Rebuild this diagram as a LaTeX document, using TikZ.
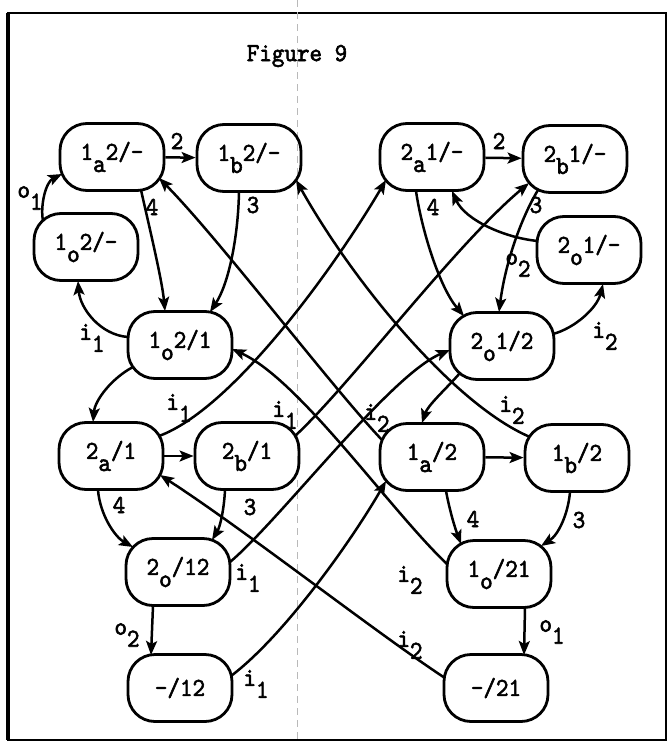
\documentclass[tikz,border=0pt]{standalone}
\usepackage{fontspec}
\setmonofont[FakeBold=2.2,FakeStretch=0.92]{lmmono10-regular.otf}
\usetikzlibrary{arrows.meta}
\newcommand\dn[1]{\raisebox{-12pt}{#1}}
\newcommand\tw{\fontsize{26}{30}\selectfont\ttfamily}
\begin{document}
\begin{tikzpicture}[x=1pt,y=-1pt,
  st/.style={draw, line width=2.8pt, rounded corners=27pt, minimum width=104pt, minimum height=67pt, inner sep=0pt, font=\tw},
  ed/.style={line width=2.5pt, -{Stealth[length=14pt,width=11pt,inset=3pt]}},
  lb/.style={inner sep=0pt, font=\tw}]
\useasboundingbox (0,0) rectangle (669,744);
\fill[white] (0,0) rectangle (669,744);
% frame
\draw[line width=2.5pt] (8,13) rectangle (666,740);
\draw[line width=4pt] (8,13) -- (8,740);
\draw[gray!55, line width=0.7pt, dash pattern=on 7pt off 5pt] (297,0) -- (297,744);
\node[lb] (title) at (297,56) {Figure 9};
% nodes
\node[st] (A1) at (112,157) {1\dn{a}2/-};
\node[st] (B1) at (249,158) {1\dn{b}2/-};
\node[st] (O1) at (86,247) {1\dn{o}2/-};
\node[st] (C1) at (180,345) {1\dn{o}2/1};
\node[st] (A2) at (432,157) {2\dn{a}1/-};
\node[st] (B2) at (575,159) {2\dn{b}1/-};
\node[st] (O2) at (589,250) {2\dn{o}1/-};
\node[st] (C2) at (502,346) {2\dn{o}1/2};
\node[st] (D1) at (111,456) {2\dn{a}/1};
\node[st] (E1) at (247,456) {2\dn{b}/1};
\node[st] (D2) at (432,457) {1\dn{a}/2};
\node[st] (E2) at (577,458) {1\dn{b}/2};
\node[st] (F1) at (178,572) {2\dn{o}/12};
\node[st] (F2) at (499,574) {1\dn{o}/21};
\node[st] (G1) at (180,688) {-/12};
\node[st] (G2) at (496,688) {-/21};
% left upper group
\draw[ed] (A1) -- (B1);
\draw[ed] ([shift={(29,33)}]A1.center) .. controls (150,230) and (162,280) .. ([shift={(-15,-34)}]C1.center);
\draw[ed] ([shift={(-10,34)}]B1.center) .. controls (238,240) and (228,285) .. ([shift={(30,-33)}]C1.center);
\draw[ed] ([shift={(-43,-26)}]O1.center) .. controls (40,205) and (46,182) .. ([shift={(-50,17)}]A1.center);
\draw[ed] ([shift={(-52,-8)}]C1.center) .. controls (100,335) and (80,308) .. ([shift={(-8,34)}]O1.center);
\draw[ed] ([shift={(-47,22)}]C1.center) .. controls (112,378) and (95,400) .. ([shift={(-18,-34)}]D1.center);
% left lower group
\draw[ed] (D1) -- (E1);
\draw[ed] ([shift={(-13,34)}]D1.center) .. controls (100,515) and (115,537) .. ([shift={(-45,-25)}]F1.center);
\draw[ed] ([shift={(-22,34)}]E1.center) .. controls (224,510) and (220,527) .. ([shift={(34,-32)}]F1.center);
\draw[ed] ([shift={(-25,34)}]F1.center) -- ([shift={(-29,-33)}]G1.center);
% right upper group
\draw[ed] (A2) -- (B2);
\draw[ed] ([shift={(-16,34)}]A2.center) .. controls (422,232) and (440,288) .. ([shift={(-38,-30)}]C2.center);
\draw[ed] ([shift={(-37,31)}]B2.center) .. controls (520,220) and (505,265) .. ([shift={(-3,-34)}]C2.center);
\draw[ed] ([shift={(-51,-9)}]O2.center) .. controls (505,238) and (465,220) .. ([shift={(20,34)}]A2.center);
\draw[ed] ([shift={(51,-12)}]C2.center) .. controls (575,328) and (597,308) .. ([shift={(14,34)}]O2.center);
\draw[ed] ([shift={(-42,27)}]C2.center) .. controls (445,390) and (428,405) .. ([shift={(-10,-34)}]D2.center);
% right lower group
\draw[ed] (D2) -- (E2);
\draw[ed] ([shift={(14,34)}]D2.center) .. controls (450,512) and (455,528) .. ([shift={(-38,-30)}]F2.center);
\draw[ed] ([shift={(-7,34)}]E2.center) .. controls (568,515) and (558,535) .. ([shift={(42,-28)}]F2.center);
\draw[ed] ([shift={(26,34)}]F2.center) -- ([shift={(28,-33)}]G2.center);
% crossing edges, left to right
\draw[ed] ([shift={(48,-20)}]D1.center) .. controls (230,410) and (330,275) .. ([shift={(-46,23)}]A2.center);
\draw[ed] ([shift={(48,-20)}]E1.center) .. controls (350,385) and (455,245) .. ([shift={(-46,24)}]B2.center);
\draw[ed] ([shift={(52,-10)}]F1.center) .. controls (280,520) and (390,375) .. ([shift={(-52,4)}]C2.center);
\draw[ed] ([shift={(51,-12)}]G1.center) .. controls (285,635) and (352,540) .. ([shift={(-46,24)}]D2.center);
% crossing edges, right to left
\draw[ed] ([shift={(-50,-17)}]D2.center) .. controls (330,385) and (220,240) .. ([shift={(47,21)}]A1.center);
\draw[ed] ([shift={(-47,-21)}]E2.center) .. controls (455,405) and (355,285) .. ([shift={(47,22)}]B1.center);
\draw[ed] ([shift={(-52,-10)}]F2.center) .. controls (390,510) and (300,380) .. ([shift={(52,4)}]C1.center);
\draw[ed] ([shift={(-51,-10)}]G2.center) .. controls (375,632) and (245,530) .. ([shift={(49,19)}]D1.center);
% labels
\node[lb] (l1) at (177,141) {2};
\node[lb] (l2) at (499,141) {2};
\node[lb] (l3) at (152,207) {4};
\node[lb] (l4) at (253,205) {3};
\node[lb] (l5) at (433,207) {4};
\node[lb] (l6) at (536,205) {3};
\node[lb] (l7) at (119,505) {4};
\node[lb] (l8) at (250,507) {3};
\node[lb] (l9) at (473,519) {4};
\node[lb] (l10) at (579,520) {3};
\node[lb] (l11) at (30,198) {o\dn{1}};
\node[lb] (l12) at (92,338) {i\dn{1}};
\node[lb] (l13) at (179,408) {i\dn{1}};
\node[lb] (l14) at (285,415) {i\dn{1}};
\node[lb] (l15) at (377,418) {i\dn{2}};
\node[lb] (l16) at (512,410) {i\dn{2}};
\node[lb] (l17) at (605,336) {i\dn{2}};
\node[lb] (l18) at (518,265) {o\dn{2}};
\node[lb] (l19) at (248,578) {i\dn{1}};
\node[lb] (l20) at (410,580) {i\dn{2}};
\node[lb] (l21) at (127,635) {o\dn{2}};
\node[lb] (l22) at (552,632) {o\dn{1}};
\node[lb] (l23) at (256,684) {i\dn{1}};
\node[lb] (l24) at (410,645) {i\dn{2}};
\end{tikzpicture}
\end{document}
